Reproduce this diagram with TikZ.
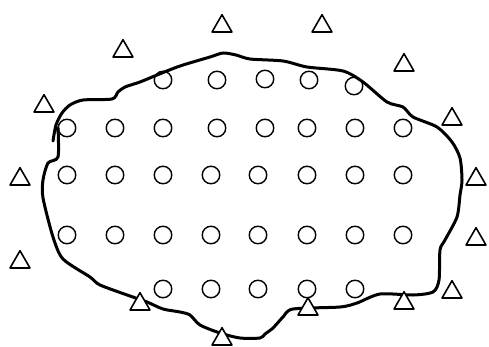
\documentclass[tikz,border=0pt]{standalone}
\usetikzlibrary{shapes.geometric}

\tikzset{
  hole/.style={draw, circle, line width=1.4pt, minimum size=17.5pt, inner sep=0pt},
  tri/.style={draw, fill=white, regular polygon, regular polygon sides=3,
    line width=1.6pt, minimum size=23pt, inner sep=0pt},
}

\begin{document}
\begin{tikzpicture}[x=1pt,y=-1pt,line cap=round,line join=round]
  \useasboundingbox (0,0) rectangle (489,347);
  % circles inside the region
  \foreach \x/\y [count=\i] in {163/80,217/80,265/79,309/80,354/86,
      67/128,115/128,163/128,217/128,265/128,307/128,355/128,403/128,
      67/175,115/175,163/175,211/175,258/175,307/175,355/175,403/175,
      67/235,115/235,163/235,211/235,258/235,307/235,355/235,403/235,
      163/289,211/289,258/289,307/289,355/289}
    \node[hole] (h\i) at (\x,\y) {};
  % outline of the region
  \draw[line width=3pt] plot[smooth,tension=0.45] coordinates {
    (53,141) (56,125) (62,113) (70,105) (83,100) (112,99) (118,92) (125,87)
    (140,82) (157,75) (180,66) (210,57) (223,53) (236,55) (250,59) (283,61)
    (307,67) (343,71) (363,82) (387,102) (403,107) (413,117) (437,127)
    (452,142) (460,158) (462,180) (460,195) (457,217) (445,240) (440,250)
    (439,280) (433,292) (413,295) (380,294) (357,303) (340,307) (293,309)
    (283,317) (273,328) (265,334) (260,338) (240,338) (220,333) (200,325)
    (190,315) (180,312) (163,309) (147,302) (130,296) (100,285) (90,277)
    (63,259) (53,237) (43,198) (43,180) (48,163) (58,157) (58,128)};
  % triangles around the region (base x / base y)
  \foreach \x/\y [count=\i] in {123/57,222/32,322/32,404/71,452/125,476/185,
      476/245,452/298,404/309,308/315,222/345,140/310,20/268,20/185,44/112}
    \node[tri] (t\i) at (\x,\y-5.75) {};
\end{tikzpicture}
\end{document}
